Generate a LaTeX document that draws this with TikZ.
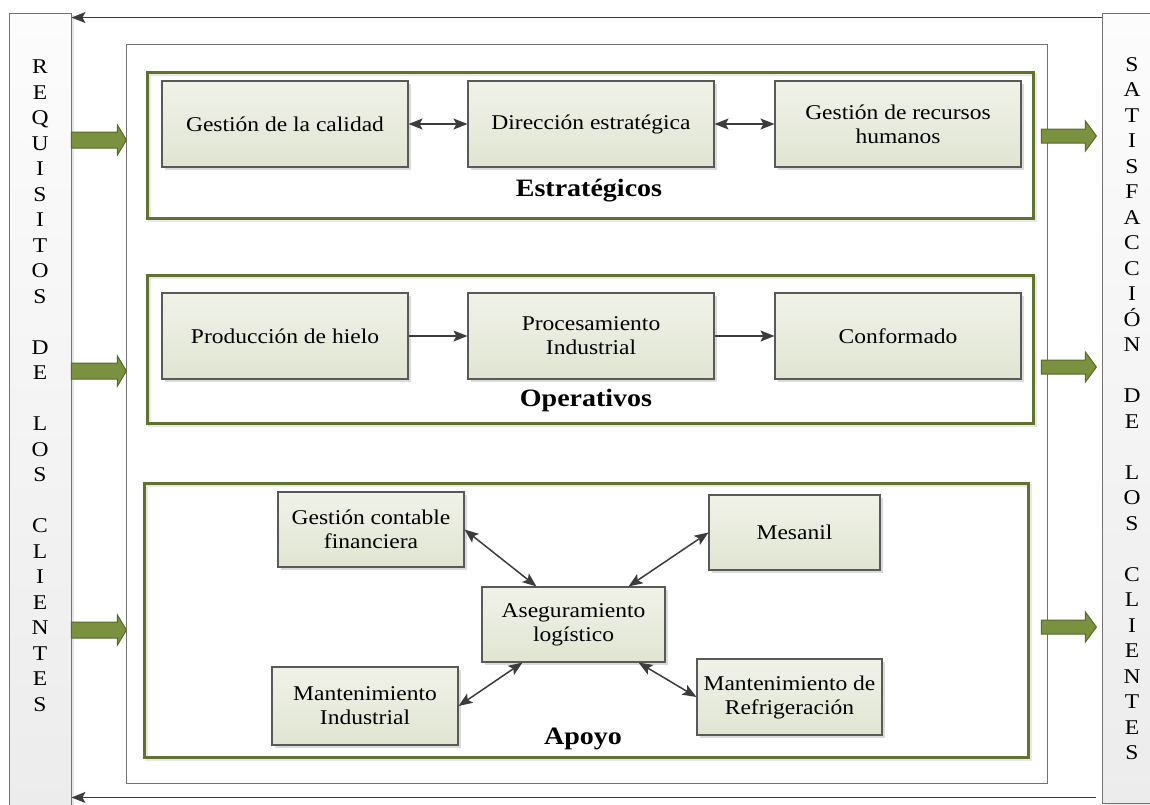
\documentclass[tikz,border=0pt]{standalone}
\usepackage{fontspec}
\setmainfont{Liberation Serif}[FakeStretch=1.12]
\usetikzlibrary{arrows.meta,shadows,calc}
\definecolor{frameolive}{RGB}{96,114,46}
\definecolor{arrfill}{RGB}{122,146,64}
\definecolor{arrdraw}{RGB}{88,106,42}
\definecolor{boxtop}{RGB}{240,242,232}
\definecolor{boxbot}{RGB}{224,229,210}
\definecolor{connc}{RGB}{60,60,60}
\definecolor{bartop}{RGB}{252,252,252}
\definecolor{barbot}{RGB}{236,236,236}
\tikzset{
  procbox/.style={draw=black!65, line width=1.1pt, top color=boxtop, bottom color=boxbot,
    align=center, inner sep=2pt, font=\fontsize{21}{24}\selectfont,
    drop shadow={shadow xshift=2.5pt, shadow yshift=-2.5pt, fill=black!14, opacity=1}},
  grpframe/.style={draw=frameolive, line width=3pt},
  grpshadow/.style={draw=black!9, line width=3pt},
  outerframe/.style={draw=black!55, line width=0.8pt},
  sidebar/.style={draw=black!55, line width=0.9pt, top color=bartop, bottom color=barbot,
    drop shadow={shadow xshift=3pt, shadow yshift=-2pt, fill=black!10, opacity=1}},
  sidetext/.style={align=center, inner sep=0pt, font=\fontsize{21}{25.5}\selectfont},
  grplabel/.style={inner sep=0pt, font=\fontsize{25}{30}\selectfont\bfseries},
  link/.style={draw=connc, line width=1.5pt},
  tip/.tip={Stealth[length=14pt, width=11pt, inset=3pt]},
  blockarrow/.style={fill=arrfill, draw=arrdraw, line width=1pt, line join=miter}
}
\begin{document}
\begin{tikzpicture}[x=1pt, y=-1pt]
\useasboundingbox (0,0) rectangle (1150,804);
\clip (0,0) rectangle (1150,804);

% side bars
\node[sidebar, minimum width=62pt, minimum height=797pt] (lbar) at (40,411.5) {};
\node[sidebar, minimum width=63pt, minimum height=790pt] (rbar) at (1133.5,408) {};
\node[sidetext, anchor=north] (ltext) at (40,60) {R\\E\\Q\\U\\I\\S\\I\\T\\O\\S\\~\\D\\E\\~\\L\\O\\S\\~\\C\\L\\I\\E\\N\\T\\E\\S};
\node[sidetext, anchor=north] (rtext) at (1132,57) {S\\A\\T\\I\\S\\F\\A\\C\\C\\I\\Ó\\N\\~\\D\\E\\~\\L\\O\\S\\~\\C\\L\\I\\E\\N\\T\\E\\S};

% outer frame
\node[outerframe, minimum width=921pt, minimum height=739pt] (frame) at (586.5,413.5) {};

% group frames
\draw[grpshadow] (149.5,74.5) rectangle (1035.5,220.5);
\draw[grpshadow] (149.5,277.5) rectangle (1035.5,425.5);
\draw[grpshadow] (146.5,485.5) rectangle (1030.5,759.5);
\node[grpframe, minimum width=886pt, minimum height=146pt] (grpE) at (590,145) {};
\node[grpframe, minimum width=886pt, minimum height=148pt] (grpO) at (590,349) {};
\node[grpframe, minimum width=884pt, minimum height=274pt] (grpA) at (586,620) {};

\node[grplabel, anchor=base] (lblE) at (589,196) {Estratégicos};
\node[grplabel, anchor=base] (lblO) at (586,406) {Operativos};
\node[grplabel, anchor=base] (lblA) at (583,744) {Apoyo};

% strategic
\node[procbox, minimum width=246pt, minimum height=86pt] (calidad) at (285,124) {Gestión de la calidad};
\node[procbox, minimum width=246pt, minimum height=86pt] (direccion) at (591,124) {Dirección estratégica};
\node[procbox, minimum width=246pt, minimum height=86pt] (rrhh) at (898,124) {Gestión de recursos\\humanos};
% operative
\node[procbox, minimum width=246pt, minimum height=86pt] (hielo) at (285,336) {Producción de hielo};
\node[procbox, minimum width=246pt, minimum height=86pt] (proces) at (591,336) {Procesamiento\\Industrial};
\node[procbox, minimum width=246pt, minimum height=86pt] (conform) at (898,336) {Conformado};
% support
\node[procbox, minimum width=186pt, minimum height=75pt] (contable) at (371,529.5) {Gestión contable\\financiera};
\node[procbox, minimum width=171pt, minimum height=75pt] (mesanil) at (794.5,532.5) {Mesanil};
\node[procbox, minimum width=183pt, minimum height=75pt] (aseg) at (573.5,624.5) {Aseguramiento\\logístico};
\node[procbox, minimum width=186pt, minimum height=78pt] (mantind) at (365,706) {Mantenimiento\\Industrial};
\node[procbox, minimum width=185pt, minimum height=76pt] (mantref) at (789.5,697) {Mantenimiento de\\Refrigeración};

% connectors
\draw[link, tip-tip] (calidad) -- (direccion);
\draw[link, tip-tip] (direccion) -- (rrhh);
\draw[link, -tip] (hielo) -- (proces);
\draw[link, -tip] (proces) -- (conform);
\draw[link, tip-tip] (contable.east) -- ([xshift=55pt]aseg.north west);
\draw[link, tip-tip] (mesanil.west) -- ([xshift=-37pt]aseg.north east);
\draw[link, tip-tip] (mantind.east) -- ([xshift=41pt]aseg.south west);
\draw[link, tip-tip] (mantref.west) -- ([xshift=-27pt]aseg.south east);

% feedback lines
\draw[link, -tip] ([yshift=-5pt]rbar.north west) -- ([yshift=-5pt]lbar.north east);
\coordinate (bend) at ([xshift=-6pt, yshift=6pt]rbar.south west);
\draw[link, -tip] (bend) -- (lbar.east |- bend);

% green block arrows
\foreach \yy in {140,371,630} {
  \draw[blockarrow] (lbar.east |- 0,\yy) ++(0,-8) -- ++(46,0) -- ++(0,-7) -- ++(9,15)
    -- ++(-9,15) -- ++(0,-7) -- ++(-46,0) -- cycle;
}
\foreach \yy in {136,367,627} {
  \draw[blockarrow] (frame.east |- 0,\yy) ++(-6,-7) -- ++(44,0) -- ++(0,-8) -- ++(11,15)
    -- ++(-11,15) -- ++(0,-8) -- ++(-44,0) -- cycle;
}
\end{tikzpicture}
\end{document}
